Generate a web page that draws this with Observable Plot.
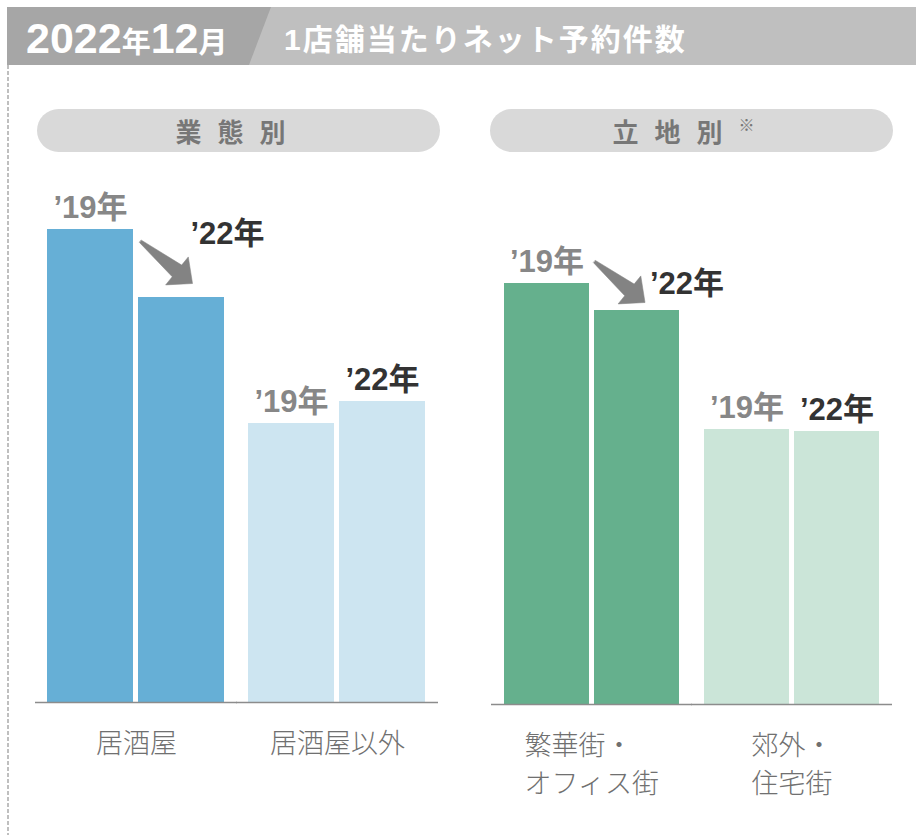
<!DOCTYPE html>
<html><head><meta charset="utf-8">
<script src="https://cdn.jsdelivr.net/npm/d3@7"></script>
<script src="https://cdn.jsdelivr.net/npm/@observablehq/plot@0.6"></script>
<style>
body{margin:0;background:#fff;}
#root{position:relative;width:916px;height:835px;overflow:hidden;font-family:"Liberation Sans","Noto Sans CJK JP",sans-serif;}
.hdr{position:absolute;left:7px;top:7px;width:909px;height:58px;background:#bfbfbf;}
.hdr-dark{position:absolute;left:0;top:0;width:264px;height:58px;background:#a6a6a6;clip-path:polygon(0 0,264px 0,242px 58px,0 58px);}
.hdr-date{position:absolute;left:19px;top:2px;line-height:58px;font-size:43px;font-weight:bold;color:#fff;white-space:nowrap;}
.hdr-date .k{font-family:"Noto Sans CJK JP";font-size:29px;}
.hdr-title{position:absolute;left:277px;top:15px;line-height:30px;font-size:30px;font-weight:bold;color:#fff;letter-spacing:2px;white-space:nowrap;}
.hdr-title .k{font-family:"Noto Sans CJK JP";}
.pill{position:absolute;top:109px;height:43px;width:403px;border-radius:22px;background:#d9d9d9;display:flex;align-items:center;justify-content:center;font-family:"Noto Sans CJK JP";font-weight:bold;font-size:26px;color:#777;letter-spacing:16px;}
.pill .sup{font-size:16px;position:relative;top:-7px;}
.panel{position:absolute;}
#dash{position:absolute;left:0;top:65px;}
</style></head>
<body><div id="root">
<div class="hdr"><div class="hdr-dark"></div>
<div class="hdr-date">2022<span class="k">年</span>12<span class="k">月</span></div>
<div class="hdr-title">1<span class="k">店舗当たりネット予約件数</span></div>
</div>
<svg id="dash" width="16" height="770"><line x1="8" x2="8" y1="0" y2="770" stroke="#aaaaaa" stroke-width="1.5" stroke-dasharray="4,2"/></svg>
<div class="pill" style="left:37px">業態別</div>
<div class="pill" style="left:490px">立地別<span class="sup">※</span></div>
<div class="panel" id="p1" style="left:30px;top:170px"></div>
<div class="panel" id="p2" style="left:484px;top:172px"></div>
</div>
<script>
// ---- data (relative reservation counts) ----
const years = ["’19年", "’22年"];
const typeGroups = ["居酒屋", "居酒屋以外"];
const typeLabels = ["居酒屋", "居酒屋以外"];
const type19 = [473, 279];
const type22 = [405, 301];
const areaGroups = ["繁華街・オフィス街", "郊外・住宅街"];
const areaLabels = ["繁華街・\nオフィス街", "郊外・\n住宅街"];
const area19 = [421, 275];
const area22 = [394, 273];
const yMax = 532;

const numFont = "Liberation Sans, Noto Sans CJK JP, sans-serif";
const yearColors = ["#878787", "#333333"];

const arrowShape = {
  draw(context, l) {
    const hw = 18, hl = 20, sw = 7.5, tw = 1.5;
    context.moveTo(-tw, 0);
    context.lineTo(-sw, -(l - hl));
    context.lineTo(-hw, -(l - hl));
    context.lineTo(0, -l);
    context.lineTo(hw, -(l - hl));
    context.lineTo(sw, -(l - hl));
    context.lineTo(tw, 0);
    context.closePath();
  }
};

function panel({groups, labels, v19, v22, colors, align, marginLeft, hl, arrow}) {
  const rows = groups.flatMap((g, i) => [
    {group: g, label: labels[i], year: years[0], value: v19[i]},
    {group: g, label: labels[i], year: years[1], value: v22[i]}
  ]);
  const isHL = d => d.group === groups[0] && d.year === years[1];
  const catFont = 27;
  const catMarks = groups.map((g, i) => {
    const maxLen = Math.max(...labels[i].split("\n").map(s => s.length));
    return Plot.text(rows, {
      filter: d => d.group === g && d.year === years[0],
      frameAnchor: "bottom", text: "label", lineAnchor: "top", dy: 24, lineHeight: 1.4,
      textAnchor: align, dx: align === "start" ? -maxLen * catFont / 2 : 0,
      fontSize: catFont, fill: "#707070", fontWeight: 300, fontFamily: "Noto Sans CJK JP"
    });
  });
  const yearMarks = years.map((yr, j) => Plot.text(rows, {
    filter: d => d.year === yr && !isHL(d),
    x: "year", y: "value", text: "year", lineAnchor: "bottom", dy: -12,
    fontSize: 31, fontWeight: "bold", fontFamily: numFont, fill: yearColors[j]
  }));
  return Plot.plot({
    width: 420, height: 640, marginTop: 0, marginBottom: 108, marginLeft, marginRight: 23,
    style: {background: "transparent", overflow: "visible"},
    facet: {data: rows, x: "group", label: null},
    fx: {domain: groups, paddingInner: 0.114, paddingOuter: 0, axis: null},
    x: {domain: years, paddingInner: 0.0545, paddingOuter: 0, axis: null},
    y: {domain: [0, yMax], axis: null},
    color: {domain: groups, range: colors},
    marks: [
      Plot.barY(rows, {x: "year", y: "value", fill: "group"}),
      Plot.ruleY([0], {stroke: "#8c8c8c", strokeWidth: 1.6, insetLeft: -12, insetRight: -12}),
      ...yearMarks,
      Plot.text(rows, {
        filter: isHL, x: "year", y: "value", text: "year", lineAnchor: "bottom",
        dx: hl.dx, dy: hl.dy, fontSize: 31, fontWeight: "bold", fontFamily: numFont, fill: yearColors[1]
      }),
      Plot.vector(rows, {
        filter: isHL, x: "year", y: "value", anchor: "end", shape: arrowShape,
        length: arrow.length, rotate: arrow.rotate, dx: arrow.dx, dy: arrow.dy,
        fill: "#838383", stroke: "#838383", strokeWidth: 0.5
      }),
      ...catMarks
    ]
  });
}

document.getElementById("p1").appendChild(panel({
  groups: typeGroups, labels: typeLabels, v19: type19, v22: type22,
  colors: ["#66afd6", "#cde5f1"], align: "middle", marginLeft: 17,
  hl: {dx: 46, dy: -54}, arrow: {dx: 11, dy: -14, length: 67, rotate: 129}
}));
document.getElementById("p2").appendChild(panel({
  groups: areaGroups, labels: areaLabels, v19: area19, v22: area22,
  colors: ["#65b08d", "#cbe5d8"], align: "start", marginLeft: 18,
  hl: {dx: 50, dy: -17}, arrow: {dx: 8, dy: -8, length: 65, rotate: 129}
}));
</script>
</body></html>
